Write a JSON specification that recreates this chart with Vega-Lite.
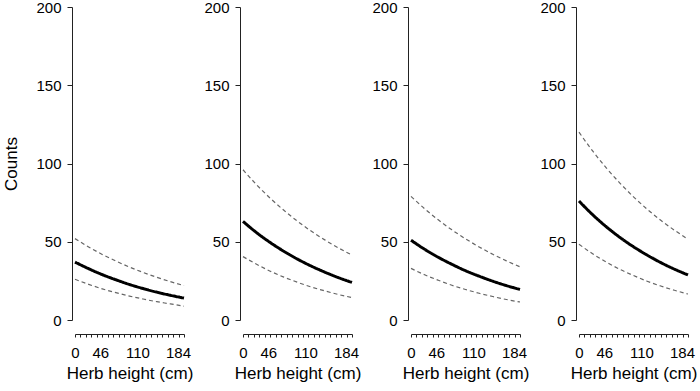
{
  "$schema": "https://vega.github.io/schema/vega-lite/v6.json",
  "padding": {"left": 2, "top": 0, "right": 4, "bottom": 2},
  "background": "white",
  "datasets": {
    "curves": [
      {"p": 1, "x": 0, "mean": 37, "upper": 52, "lower": 26},
      {"p": 1, "x": 23, "mean": 32.8, "upper": 46.7, "lower": 22.8},
      {"p": 1, "x": 46, "mean": 29.0, "upper": 41.9, "lower": 19.9},
      {"p": 1, "x": 69, "mean": 25.7, "upper": 37.7, "lower": 17.5},
      {"p": 1, "x": 92, "mean": 22.7, "upper": 33.8, "lower": 15.3},
      {"p": 1, "x": 115, "mean": 20.1, "upper": 30.4, "lower": 13.4},
      {"p": 1, "x": 138, "mean": 17.8, "upper": 27.3, "lower": 11.7},
      {"p": 1, "x": 161, "mean": 15.8, "upper": 24.5, "lower": 10.3},
      {"p": 1, "x": 184, "mean": 14.0, "upper": 22.0, "lower": 8.8},
      {"p": 2, "x": 0, "mean": 63, "upper": 96, "lower": 40.5},
      {"p": 2, "x": 23, "mean": 55.8, "upper": 86.4, "lower": 35.6},
      {"p": 2, "x": 46, "mean": 49.5, "upper": 77.8, "lower": 31.2},
      {"p": 2, "x": 69, "mean": 43.9, "upper": 70.1, "lower": 27.4},
      {"p": 2, "x": 92, "mean": 38.9, "upper": 63.1, "lower": 24.1},
      {"p": 2, "x": 115, "mean": 34.5, "upper": 56.8, "lower": 21.1},
      {"p": 2, "x": 138, "mean": 30.6, "upper": 51.2, "lower": 18.6},
      {"p": 2, "x": 161, "mean": 27.1, "upper": 46.1, "lower": 16.3},
      {"p": 2, "x": 184, "mean": 24.0, "upper": 41.5, "lower": 14.3},
      {"p": 3, "x": 0, "mean": 51, "upper": 79, "lower": 33},
      {"p": 3, "x": 23, "mean": 45.2, "upper": 71.1, "lower": 28.9},
      {"p": 3, "x": 46, "mean": 40.1, "upper": 64.0, "lower": 25.4},
      {"p": 3, "x": 69, "mean": 35.6, "upper": 57.6, "lower": 22.2},
      {"p": 3, "x": 92, "mean": 31.5, "upper": 51.9, "lower": 19.5},
      {"p": 3, "x": 115, "mean": 28.0, "upper": 46.7, "lower": 17.1},
      {"p": 3, "x": 138, "mean": 24.8, "upper": 42.0, "lower": 15.0},
      {"p": 3, "x": 161, "mean": 22.0, "upper": 37.8, "lower": 13.1},
      {"p": 3, "x": 184, "mean": 19.5, "upper": 34.0, "lower": 11.5},
      {"p": 4, "x": 0, "mean": 76, "upper": 120, "lower": 48.4},
      {"p": 4, "x": 23, "mean": 67.3, "upper": 108, "lower": 42.3},
      {"p": 4, "x": 46, "mean": 59.6, "upper": 97.2, "lower": 37.0},
      {"p": 4, "x": 69, "mean": 52.8, "upper": 87.5, "lower": 32.4},
      {"p": 4, "x": 92, "mean": 46.8, "upper": 78.7, "lower": 28.4},
      {"p": 4, "x": 115, "mean": 41.5, "upper": 70.8, "lower": 24.8},
      {"p": 4, "x": 138, "mean": 36.7, "upper": 63.7, "lower": 21.7},
      {"p": 4, "x": 161, "mean": 32.5, "upper": 57.4, "lower": 19.0},
      {"p": 4, "x": 184, "mean": 28.8, "upper": 51.6, "lower": 16.6}
    ]
  },
  "data": {"name": "curves"},
  "bounds": "flush",
  "spacing": 59,
  "hconcat": [
    {
      "width": 109, "height": 313,
      "transform": [{"filter": "datum.p == 1"}, {"fold": ["mean", "upper", "lower"], "as": ["s", "v"]}],
      "mark": {"type": "line", "interpolate": "monotone"},
      "encoding": {
        "x": {"field": "x", "type": "quantitative", "scale": {"domain": [0, 184], "nice": false, "zero": false},
          "axis": {"title": "Herb height (cm)", "offset": 14, "tickSize": 3, "labelPadding": 8, "titlePadding": 5,
            "labelFont": "Liberation Sans", "titleFont": "Liberation Sans", "labelFontSize": 15, "titleFontSize": 17, "titleFontWeight": "normal",
            "labelFlush": false, "labelBound": false,
            "labelOffset": {"condition": [{"test": "datum.value == 184", "value": -6}, {"test": "datum.value == 110.4", "value": -3}, {"test": "datum.value == 46", "value": -2}], "value": 0},
            "values": [0, 9.2, 18.4, 27.6, 36.8, 46, 55.2, 64.4, 73.6, 82.8, 92, 101.2, 110.4, 119.6, 128.8, 138, 147.2, 156.4, 165.6, 174.8, 184],
            "labelExpr": "datum.value == 0 ? '0' : datum.value == 46 ? '46' : datum.value == 110.4 ? '110' : datum.value == 184 ? '184' : ''"}},
        "y": {"field": "v", "type": "quantitative", "scale": {"domain": [0, 200], "nice": false},
          "axis": {"title": "Counts", "values": [0, 50, 100, 150, 200], "offset": 3, "tickSize": 5, "labelPadding": 6, "titlePadding": 15,
            "labelFont": "Liberation Sans", "titleFont": "Liberation Sans", "labelFontSize": 15, "titleFontSize": 17, "titleFontWeight": "normal"}},
        "detail": {"field": "s"},
        "color": {"field": "s", "type": "nominal", "scale": {"type": "ordinal", "domain": ["mean", "upper", "lower"], "range": ["#000000", "#666666", "#666666"]}, "legend": null},
        "strokeWidth": {"field": "s", "type": "nominal", "scale": {"type": "ordinal", "domain": ["mean", "upper", "lower"], "range": [3, 1.2, 1.2]}, "legend": null},
        "strokeDash": {"field": "s", "type": "nominal", "scale": {"type": "ordinal", "domain": ["mean", "upper", "lower"], "range": [[1, 0], [4, 3], [4, 3]]}, "legend": null}
      }
    },
    {
      "width": 109, "height": 313,
      "transform": [{"filter": "datum.p == 2"}, {"fold": ["mean", "upper", "lower"], "as": ["s", "v"]}],
      "mark": {"type": "line", "interpolate": "monotone"},
      "encoding": {
        "x": {"field": "x", "type": "quantitative", "scale": {"domain": [0, 184], "nice": false, "zero": false},
          "axis": {"title": "Herb height (cm)", "offset": 14, "tickSize": 3, "labelPadding": 8, "titlePadding": 5,
            "labelFont": "Liberation Sans", "titleFont": "Liberation Sans", "labelFontSize": 15, "titleFontSize": 17, "titleFontWeight": "normal",
            "labelFlush": false, "labelBound": false,
            "labelOffset": {"condition": [{"test": "datum.value == 184", "value": -6}, {"test": "datum.value == 110.4", "value": -3}, {"test": "datum.value == 46", "value": -2}], "value": 0},
            "values": [0, 9.2, 18.4, 27.6, 36.8, 46, 55.2, 64.4, 73.6, 82.8, 92, 101.2, 110.4, 119.6, 128.8, 138, 147.2, 156.4, 165.6, 174.8, 184],
            "labelExpr": "datum.value == 0 ? '0' : datum.value == 46 ? '46' : datum.value == 110.4 ? '110' : datum.value == 184 ? '184' : ''"}},
        "y": {"field": "v", "type": "quantitative", "scale": {"domain": [0, 200], "nice": false},
          "axis": {"title": null, "values": [0, 50, 100, 150, 200], "offset": 3, "tickSize": 5, "labelPadding": 6,
            "labelFont": "Liberation Sans", "labelFontSize": 15}},
        "detail": {"field": "s"},
        "color": {"field": "s", "type": "nominal", "scale": {"type": "ordinal", "domain": ["mean", "upper", "lower"], "range": ["#000000", "#666666", "#666666"]}, "legend": null},
        "strokeWidth": {"field": "s", "type": "nominal", "scale": {"type": "ordinal", "domain": ["mean", "upper", "lower"], "range": [3, 1.2, 1.2]}, "legend": null},
        "strokeDash": {"field": "s", "type": "nominal", "scale": {"type": "ordinal", "domain": ["mean", "upper", "lower"], "range": [[1, 0], [4, 3], [4, 3]]}, "legend": null}
      }
    },
    {
      "width": 109, "height": 313,
      "transform": [{"filter": "datum.p == 3"}, {"fold": ["mean", "upper", "lower"], "as": ["s", "v"]}],
      "mark": {"type": "line", "interpolate": "monotone"},
      "encoding": {
        "x": {"field": "x", "type": "quantitative", "scale": {"domain": [0, 184], "nice": false, "zero": false},
          "axis": {"title": "Herb height (cm)", "offset": 14, "tickSize": 3, "labelPadding": 8, "titlePadding": 5,
            "labelFont": "Liberation Sans", "titleFont": "Liberation Sans", "labelFontSize": 15, "titleFontSize": 17, "titleFontWeight": "normal",
            "labelFlush": false, "labelBound": false,
            "labelOffset": {"condition": [{"test": "datum.value == 184", "value": -6}, {"test": "datum.value == 110.4", "value": -3}, {"test": "datum.value == 46", "value": -2}], "value": 0},
            "values": [0, 9.2, 18.4, 27.6, 36.8, 46, 55.2, 64.4, 73.6, 82.8, 92, 101.2, 110.4, 119.6, 128.8, 138, 147.2, 156.4, 165.6, 174.8, 184],
            "labelExpr": "datum.value == 0 ? '0' : datum.value == 46 ? '46' : datum.value == 110.4 ? '110' : datum.value == 184 ? '184' : ''"}},
        "y": {"field": "v", "type": "quantitative", "scale": {"domain": [0, 200], "nice": false},
          "axis": {"title": null, "values": [0, 50, 100, 150, 200], "offset": 3, "tickSize": 5, "labelPadding": 6,
            "labelFont": "Liberation Sans", "labelFontSize": 15}},
        "detail": {"field": "s"},
        "color": {"field": "s", "type": "nominal", "scale": {"type": "ordinal", "domain": ["mean", "upper", "lower"], "range": ["#000000", "#666666", "#666666"]}, "legend": null},
        "strokeWidth": {"field": "s", "type": "nominal", "scale": {"type": "ordinal", "domain": ["mean", "upper", "lower"], "range": [3, 1.2, 1.2]}, "legend": null},
        "strokeDash": {"field": "s", "type": "nominal", "scale": {"type": "ordinal", "domain": ["mean", "upper", "lower"], "range": [[1, 0], [4, 3], [4, 3]]}, "legend": null}
      }
    },
    {
      "width": 109, "height": 313,
      "transform": [{"filter": "datum.p == 4"}, {"fold": ["mean", "upper", "lower"], "as": ["s", "v"]}],
      "mark": {"type": "line", "interpolate": "monotone"},
      "encoding": {
        "x": {"field": "x", "type": "quantitative", "scale": {"domain": [0, 184], "nice": false, "zero": false},
          "axis": {"title": "Herb height (cm)", "offset": 14, "tickSize": 3, "labelPadding": 8, "titlePadding": 5,
            "labelFont": "Liberation Sans", "titleFont": "Liberation Sans", "labelFontSize": 15, "titleFontSize": 17, "titleFontWeight": "normal",
            "labelFlush": false, "labelBound": false,
            "labelOffset": {"condition": [{"test": "datum.value == 184", "value": -6}, {"test": "datum.value == 110.4", "value": -3}, {"test": "datum.value == 46", "value": -2}], "value": 0},
            "values": [0, 9.2, 18.4, 27.6, 36.8, 46, 55.2, 64.4, 73.6, 82.8, 92, 101.2, 110.4, 119.6, 128.8, 138, 147.2, 156.4, 165.6, 174.8, 184],
            "labelExpr": "datum.value == 0 ? '0' : datum.value == 46 ? '46' : datum.value == 110.4 ? '110' : datum.value == 184 ? '184' : ''"}},
        "y": {"field": "v", "type": "quantitative", "scale": {"domain": [0, 200], "nice": false},
          "axis": {"title": null, "values": [0, 50, 100, 150, 200], "offset": 3, "tickSize": 5, "labelPadding": 6,
            "labelFont": "Liberation Sans", "labelFontSize": 15}},
        "detail": {"field": "s"},
        "color": {"field": "s", "type": "nominal", "scale": {"type": "ordinal", "domain": ["mean", "upper", "lower"], "range": ["#000000", "#666666", "#666666"]}, "legend": null},
        "strokeWidth": {"field": "s", "type": "nominal", "scale": {"type": "ordinal", "domain": ["mean", "upper", "lower"], "range": [3, 1.2, 1.2]}, "legend": null},
        "strokeDash": {"field": "s", "type": "nominal", "scale": {"type": "ordinal", "domain": ["mean", "upper", "lower"], "range": [[1, 0], [4, 3], [4, 3]]}, "legend": null}
      }
    }
  ],
  "config": {
    "view": {"stroke": null},
    "axis": {"grid": false, "labelColor": "#000000", "titleColor": "#000000", "domainColor": "#222222", "tickColor": "#222222",
      "domainWidth": 1, "tickWidth": 1, "labelOverlap": false}
  }
}
